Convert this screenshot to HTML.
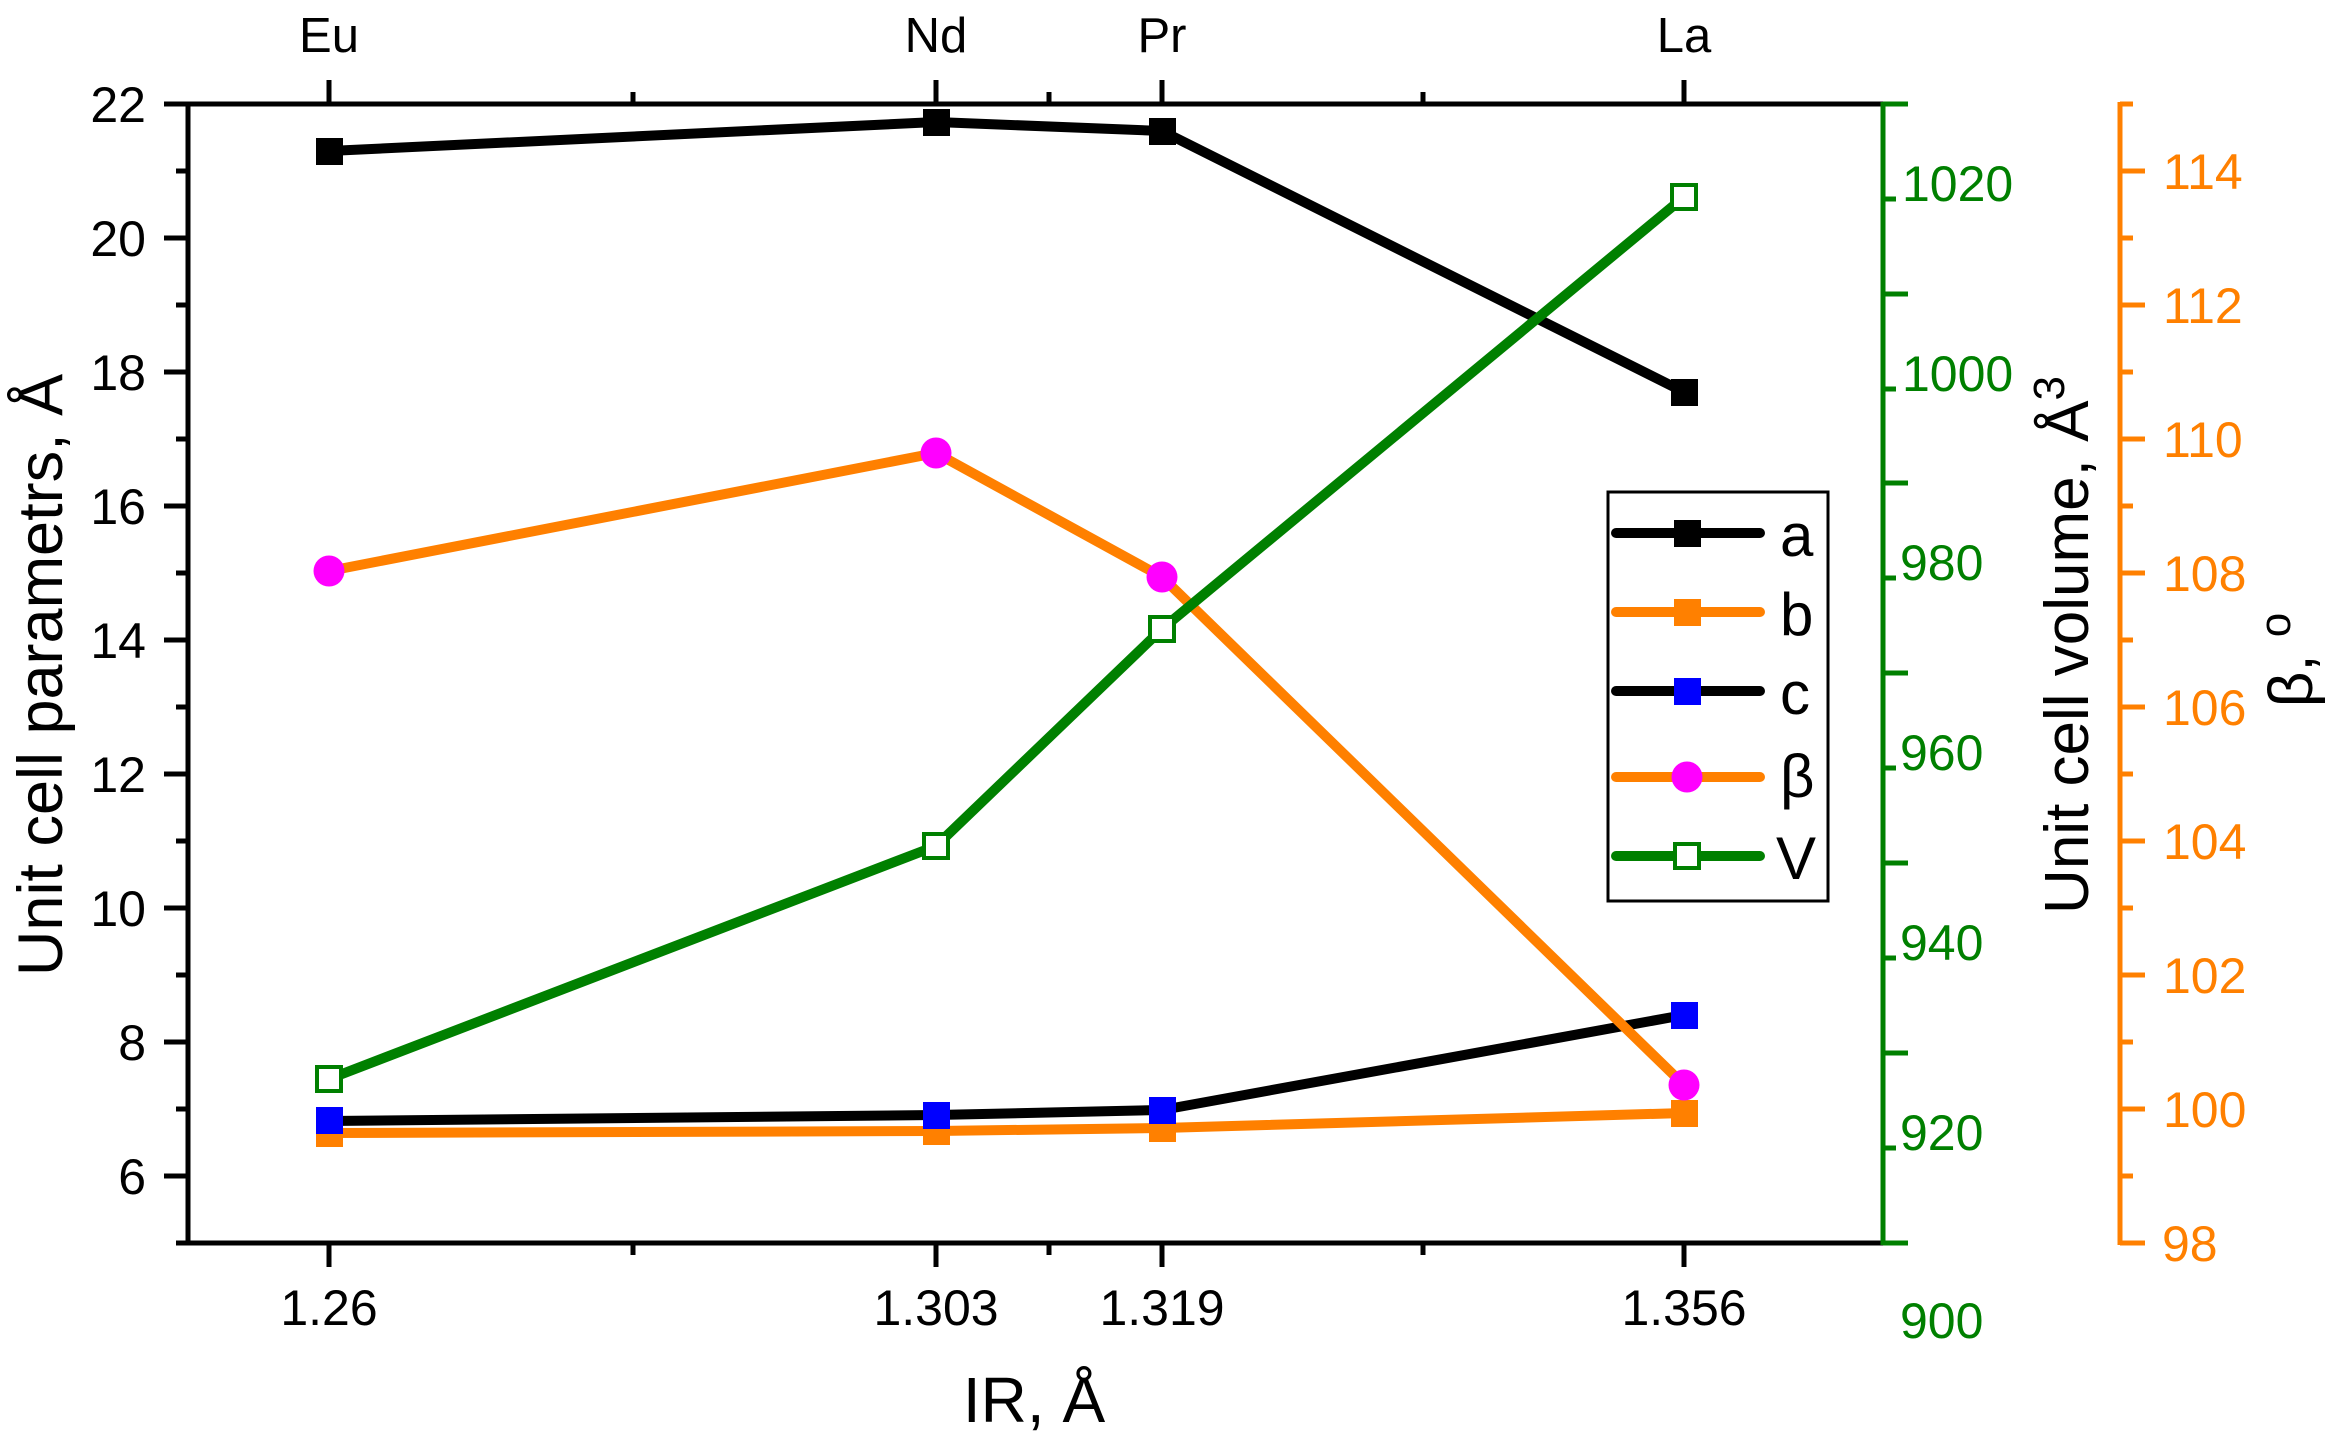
<!DOCTYPE html>
<html><head><meta charset="utf-8"><style>
html,body{margin:0;padding:0;background:#fff}
svg{display:block}
text{font-family:"Liberation Sans",sans-serif}
</style></head><body>
<svg width="2327" height="1440" viewBox="0 0 2327 1440" xmlns="http://www.w3.org/2000/svg">
<rect width="2327" height="1440" fill="#fff"/>
<g stroke="#000" stroke-width="5" fill="none">
<line x1="164" y1="104" x2="1883" y2="104"/>
<line x1="176" y1="1243" x2="1883" y2="1243"/>
<line x1="188" y1="104" x2="188" y2="1243"/>
<line x1="164" y1="104" x2="188" y2="104"/>
<line x1="164" y1="238" x2="188" y2="238"/>
<line x1="164" y1="372" x2="188" y2="372"/>
<line x1="164" y1="506" x2="188" y2="506"/>
<line x1="164" y1="640" x2="188" y2="640"/>
<line x1="164" y1="774" x2="188" y2="774"/>
<line x1="164" y1="908" x2="188" y2="908"/>
<line x1="164" y1="1042" x2="188" y2="1042"/>
<line x1="164" y1="1176" x2="188" y2="1176"/>
<line x1="176" y1="171" x2="188" y2="171"/>
<line x1="176" y1="305" x2="188" y2="305"/>
<line x1="176" y1="439" x2="188" y2="439"/>
<line x1="176" y1="573" x2="188" y2="573"/>
<line x1="176" y1="707" x2="188" y2="707"/>
<line x1="176" y1="841" x2="188" y2="841"/>
<line x1="176" y1="975" x2="188" y2="975"/>
<line x1="176" y1="1109" x2="188" y2="1109"/>
<line x1="329" y1="80" x2="329" y2="104"/>
<line x1="936" y1="80" x2="936" y2="104"/>
<line x1="1162" y1="80" x2="1162" y2="104"/>
<line x1="1684" y1="80" x2="1684" y2="104"/>
<line x1="633" y1="92" x2="633" y2="104"/>
<line x1="1049" y1="92" x2="1049" y2="104"/>
<line x1="1423" y1="92" x2="1423" y2="104"/>
<line x1="329" y1="1243" x2="329" y2="1267"/>
<line x1="936" y1="1243" x2="936" y2="1267"/>
<line x1="1162" y1="1243" x2="1162" y2="1267"/>
<line x1="1684" y1="1243" x2="1684" y2="1267"/>
<line x1="633" y1="1243" x2="633" y2="1255"/>
<line x1="1049" y1="1243" x2="1049" y2="1255"/>
<line x1="1423" y1="1243" x2="1423" y2="1255"/>
</g>
<g stroke="#008000" stroke-width="5">
<line x1="1883" y1="102" x2="1883" y2="1245"/>
<line x1="1883" y1="104" x2="1908" y2="104"/>
<line x1="1883" y1="199" x2="1896" y2="199"/>
<line x1="1883" y1="294" x2="1908" y2="294"/>
<line x1="1883" y1="389" x2="1896" y2="389"/>
<line x1="1883" y1="483" x2="1908" y2="483"/>
<line x1="1883" y1="578" x2="1896" y2="578"/>
<line x1="1883" y1="673" x2="1908" y2="673"/>
<line x1="1883" y1="768" x2="1896" y2="768"/>
<line x1="1883" y1="863" x2="1908" y2="863"/>
<line x1="1883" y1="958" x2="1896" y2="958"/>
<line x1="1883" y1="1053" x2="1908" y2="1053"/>
<line x1="1883" y1="1148" x2="1896" y2="1148"/>
<line x1="1883" y1="1243" x2="1908" y2="1243"/>
</g>
<g fill="#008000" font-size="50">
<text x="1902" y="201">1020</text>
<text x="1902" y="391">1000</text>
<text x="1900" y="580">980</text>
<text x="1900" y="770">960</text>
<text x="1900" y="960">940</text>
<text x="1900" y="1150">920</text>
<text x="1900" y="1338">900</text>
</g>
<g stroke="#FF8000" stroke-width="5">
<line x1="2120" y1="102" x2="2120" y2="1245"/>
<line x1="2120" y1="104" x2="2133" y2="104"/>
<line x1="2120" y1="171" x2="2145" y2="171"/>
<line x1="2120" y1="238" x2="2133" y2="238"/>
<line x1="2120" y1="305" x2="2145" y2="305"/>
<line x1="2120" y1="372" x2="2133" y2="372"/>
<line x1="2120" y1="439" x2="2145" y2="439"/>
<line x1="2120" y1="506" x2="2133" y2="506"/>
<line x1="2120" y1="573" x2="2145" y2="573"/>
<line x1="2120" y1="640" x2="2133" y2="640"/>
<line x1="2120" y1="707" x2="2145" y2="707"/>
<line x1="2120" y1="774" x2="2133" y2="774"/>
<line x1="2120" y1="841" x2="2145" y2="841"/>
<line x1="2120" y1="908" x2="2133" y2="908"/>
<line x1="2120" y1="975" x2="2145" y2="975"/>
<line x1="2120" y1="1042" x2="2133" y2="1042"/>
<line x1="2120" y1="1109" x2="2145" y2="1109"/>
<line x1="2120" y1="1176" x2="2133" y2="1176"/>
<line x1="2120" y1="1243" x2="2145" y2="1243"/>
</g>
<g fill="#FF8000" font-size="50">
<text x="2163" y="189">114</text>
<text x="2163" y="323">112</text>
<text x="2163" y="457">110</text>
<text x="2163" y="591">108</text>
<text x="2163" y="725">106</text>
<text x="2163" y="859">104</text>
<text x="2163" y="993">102</text>
<text x="2163" y="1127">100</text>
<text x="2162" y="1261">98</text>
</g>
<g font-size="50" text-anchor="end" fill="#000">
<text x="146" y="122">22</text>
<text x="146" y="256">20</text>
<text x="146" y="390">18</text>
<text x="146" y="524">16</text>
<text x="146" y="658">14</text>
<text x="146" y="792">12</text>
<text x="146" y="926">10</text>
<text x="146" y="1060">8</text>
<text x="146" y="1194">6</text>
</g>
<g font-size="50" text-anchor="middle" fill="#000">
<text x="329" y="1325">1.26</text>
<text x="936" y="1325">1.303</text>
<text x="1162" y="1325">1.319</text>
<text x="1684" y="1325">1.356</text>
</g>
<g font-size="49" text-anchor="middle" fill="#000">
<text x="329" y="52">Eu</text>
<text x="936" y="52">Nd</text>
<text x="1162" y="52">Pr</text>
<text x="1684" y="52">La</text>
</g>
<text x="1034" y="1422" font-size="64" text-anchor="middle">IR, Å</text>
<text transform="translate(62,675) rotate(-90)" font-size="63" text-anchor="middle">Unit cell parametrs, Å</text>
<text transform="translate(2088,645) rotate(-90)" font-size="62" text-anchor="middle">Unit cell volume, Å<tspan dy="-24" font-size="44">3</tspan></text>
<text transform="translate(2312,660) rotate(-90)" font-size="62" text-anchor="middle">β, <tspan dy="-22" font-size="44">o</tspan></text>
<g fill="none" stroke-width="10" stroke-linejoin="round" stroke-linecap="round">
<polyline stroke="#000" points="329,151 936,122 1162,131 1684,392"/>
<polyline stroke="#FF8000" points="329,1133 936,1131 1162,1128 1684,1113"/>
<polyline stroke="#000" points="329,1121 936,1115 1162,1110 1684,1015"/>
<polyline stroke="#FF8000" points="329,571 936,453 1162,577 1684,1085"/>
<polyline stroke="#008000" points="329,1079 936,846 1162,629 1684,197"/>
</g>
<g>
<rect x="316" y="138" width="27" height="27" fill="#000"/>
<rect x="923" y="109" width="27" height="27" fill="#000"/>
<rect x="1149" y="118" width="27" height="27" fill="#000"/>
<rect x="1671" y="379" width="27" height="27" fill="#000"/>
<rect x="316" y="1120" width="27" height="27" fill="#FF8000"/>
<rect x="923" y="1118" width="27" height="27" fill="#FF8000"/>
<rect x="1149" y="1115" width="27" height="27" fill="#FF8000"/>
<rect x="1671" y="1100" width="27" height="27" fill="#FF8000"/>
<rect x="316" y="1107" width="27" height="27" fill="#0000FF"/>
<rect x="923" y="1102" width="27" height="27" fill="#0000FF"/>
<rect x="1149" y="1097" width="27" height="27" fill="#0000FF"/>
<rect x="1671" y="1002" width="27" height="27" fill="#0000FF"/>
<circle cx="329" cy="571" r="15.5" fill="#FF00FF"/>
<circle cx="936" cy="453" r="15.5" fill="#FF00FF"/>
<circle cx="1162" cy="577" r="15.5" fill="#FF00FF"/>
<circle cx="1684" cy="1085" r="15.5" fill="#FF00FF"/>
<g fill="#fff" stroke="#008000" stroke-width="4">
<rect x="317" y="1067" width="24" height="24"/>
<rect x="924" y="834" width="24" height="24"/>
<rect x="1150" y="617" width="24" height="24"/>
<rect x="1672" y="185" width="24" height="24"/>
</g>
</g>
<rect x="1608" y="492" width="220" height="409" fill="#fff" stroke="#000" stroke-width="3"/>
<g stroke-width="10" stroke-linecap="round">
<line x1="1616" y1="533" x2="1760" y2="533" stroke="#000"/>
<line x1="1616" y1="612" x2="1760" y2="612" stroke="#FF8000"/>
<line x1="1616" y1="691" x2="1760" y2="691" stroke="#000"/>
<line x1="1616" y1="777" x2="1760" y2="777" stroke="#FF8000"/>
<line x1="1616" y1="856" x2="1760" y2="856" stroke="#008000"/>
</g>
<rect x="1674" y="520" width="27" height="27" fill="#000"/>
<rect x="1674" y="599" width="27" height="27" fill="#FF8000"/>
<rect x="1674" y="678" width="27" height="27" fill="#0000FF"/>
<circle cx="1687" cy="777" r="15.5" fill="#FF00FF"/>
<rect x="1675" y="844" width="24" height="24" fill="#fff" stroke="#008000" stroke-width="4"/>
<g font-size="60" fill="#000">
<text x="1780" y="556">a</text>
<text x="1780" y="635">b</text>
<text x="1780" y="714">c</text>
<text x="1780" y="797">β</text>
<text x="1776" y="879">V</text>
</g>
</svg>
</body></html>
